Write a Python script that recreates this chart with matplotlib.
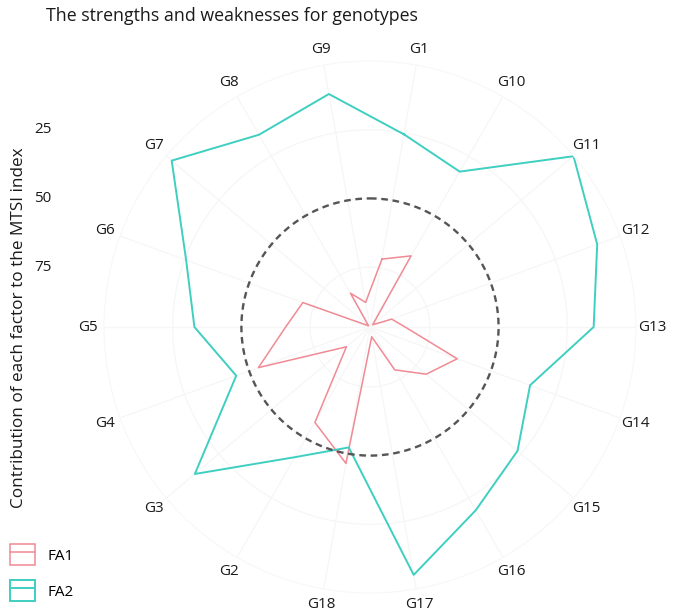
import numpy as np
import matplotlib.pyplot as plt
from matplotlib.lines import Line2D
from matplotlib.patches import Patch

# genotypes in the order ggplot puts them (alphabetical), clockwise from the top
genotypes = ["G1", "G10", "G11", "G12", "G13", "G14", "G15", "G16", "G17",
             "G18", "G2", "G3", "G4", "G5", "G6", "G7", "G8", "G9"]

# contribution (%) of each factor to the MTSI index
fa1 = [71.7, 66.9, 95.5, 88.4, 84.0, 63.0, 70.1, 78.8, 93.2,
       46.4, 56.7, 85.6, 53.6, 66.1, 70.8, 96.1, 82.6, 87.7]
fa2 = [25.6, 31.5, 0.1, 8.8, 15.4, 34.8, 26.7, 19.8, 5.2,
       52.3, 42.1, 13.6, 45.0, 32.9, 25.6, 2.6, 16.0, 10.7]

r_ticks = [25, 50, 75]
ideal = 50          # dashed reference circle
r_center = 96.8     # reversed radial scale: big values sit in the middle
r_outer = 0

col_fa1 = "#F08A94"
col_fa2 = "#3ECFC1"

plt.rcParams['font.family'] = ['Open Sans', 'DejaVu Sans']

fig = plt.figure(figsize=(6.73, 6.14), dpi=100)
ax = fig.add_axes([0.1545, 0.0342, 0.7905, 0.8664], projection='polar')
ax.set_theta_zero_location('N')
ax.set_theta_direction(-1)

theta = np.deg2rad(10 + 20 * np.arange(len(genotypes)))
th_closed = np.append(theta, theta[0])

ax.plot(th_closed, np.append(fa1, fa1[0]), color=col_fa1, lw=1.1)
ax.plot(th_closed, np.append(fa2, fa2[0]), color=col_fa2, lw=1.4)

circ = np.linspace(0, 2 * np.pi, 300)
ax.plot(circ, np.full_like(circ, ideal), color="#555555", lw=1.7,
        ls=(0, (2.8, 2.0)))

ax.set_ylim(r_center, r_outer)
ax.set_xticks(theta)
ax.set_xticklabels(genotypes, fontsize=11, color="#1a1a1a")
ax.set_yticks(r_ticks)
ax.set_yticklabels([])
ax.tick_params(axis='x', pad=1)
ax.grid(color="#f6f6f6", lw=0.9)
ax.spines['polar'].set_color("#f7f7f7")

# radial tick labels sit outside the panel, on the left like ggplot
ax.apply_aspect()
inv = fig.transFigure.inverted()
for v in r_ticks:
    _, y = inv.transform(ax.transData.transform((0, v)))
    fig.text(43 / 673, y, str(v), ha='center', va='center', fontsize=11,
             color="#1a1a1a")

fig.text(19 / 673, 0.467, "Contribution of each factor to the MTSI index",
         rotation=90, ha='center', va='center', fontsize=12.3, color="#1a1a1a")
fig.text(46 / 673, 1 - 21 / 614, "The strengths and weaknesses for genotypes",
         ha='left', va='baseline', fontsize=12.8, color="#1a1a1a")

handles = [(Patch(facecolor='none', edgecolor=col_fa1, lw=1.1),
            Line2D([], [], color=col_fa1, lw=1.1)),
           (Patch(facecolor='none', edgecolor=col_fa2, lw=1.4),
            Line2D([], [], color=col_fa2, lw=1.4))]
fig.legend(handles, ["FA1", "FA2"], loc='lower left',
           bbox_to_anchor=(-0.004, 0.0), frameon=False, fontsize=11,
           handlelength=1.6, handleheight=1.7, labelspacing=1.0,
           handletextpad=0.85, borderpad=0.35)

fig.savefig("out.png", dpi=100)
